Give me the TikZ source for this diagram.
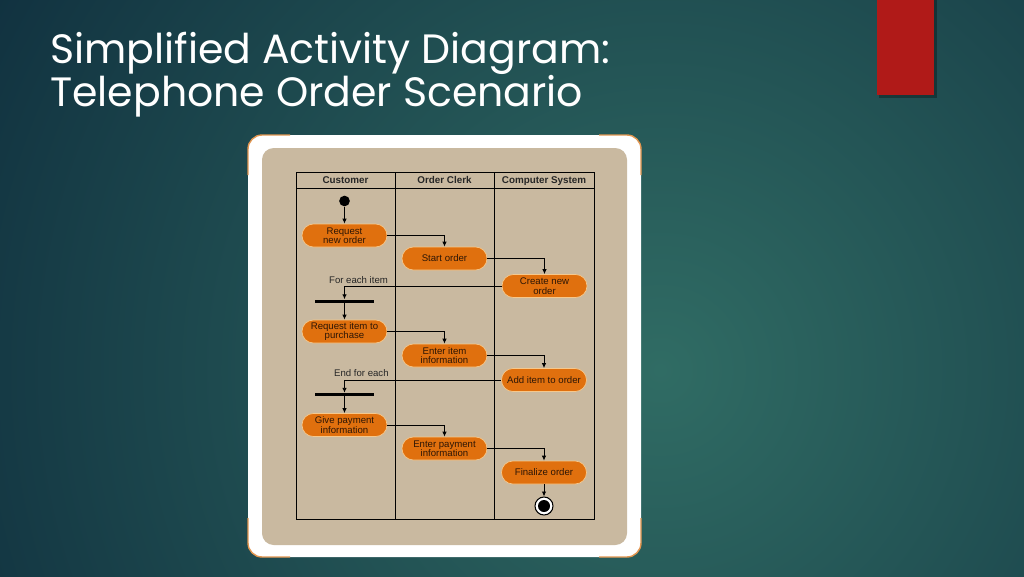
\documentclass[tikz,border=0pt]{standalone}
\usepackage{fontspec}
\setmainfont{Liberation Sans}
\newfontfamily\titlefont{Poppins}
\usepackage{tikz}
\usetikzlibrary{positioning, arrows.meta, shapes.geometric, calc}

\definecolor{bgdark}{RGB}{17,50,64}
\definecolor{bglight}{RGB}{48,108,100}
\definecolor{slidered}{RGB}{176,26,24}
\definecolor{paper}{RGB}{201,185,160}
\definecolor{framecorner}{RGB}{226,150,80}
\definecolor{actfill}{RGB}{224,112,14}
\definecolor{actedge}{RGB}{246,200,140}
\definecolor{acttext}{RGB}{45,22,6}

\begin{document}
\begin{tikzpicture}[
  x=0.03cm, y=-0.03cm,
  activity/.style={
    rectangle, rounded corners=0.34cm, draw=actedge, line width=0.6pt, fill=actfill,
    minimum width=2.55cm, minimum height=0.69cm, inner sep=1pt, align=center,
    text=acttext, font=\fontsize{8.2}{8}\selectfont
  },
  lanehead/.style={font=\fontsize{8.4}{9}\selectfont\bfseries, text=black!85,
    text height=6.2pt, text depth=1.8pt},
  note/.style={font=\fontsize{8.2}{9}\selectfont, text=black!85},
  syncbar/.style={rectangle, fill=black, minimum width=1.77cm, minimum height=0.09cm, inner sep=0pt},
  startdot/.style={circle, fill=black, minimum size=0.32cm, inner sep=0pt},
  enddot/.style={
    circle, draw=black, line width=0.9pt, fill=white, minimum size=0.54cm, inner sep=0pt,
    path picture={\fill[black] (path picture bounding box.center) circle (0.18cm);}
  },
  arrow/.style={-{Latex[length=4.2pt,width=3.8pt]}, line width=0.75pt}
]

% ==================== BACKGROUND ====================
\useasboundingbox (0,0) rectangle (1024,576);
\begin{scope}
  \clip (0,0) rectangle (1024,576);
  \fill[bgdark] (0,0) rectangle (1024,576);
  \shade[inner color=bglight, outer color=bgdark] (660,370) circle (760);
\end{scope}

% red tab
\fill[black, opacity=0.3] (879,0) rectangle (937,98);
\fill[slidered] (877,0) rectangle (934,95);

% title
\node[anchor=north west, text=white, align=left, inner sep=0pt,
      font=\titlefont\fontsize{35}{36.6}\selectfont] (title) at (50,32)
  {Simplified Activity Diagram:\\Telephone Order Scenario};

% ==================== PICTURE FRAME ====================
\fill[white, rounded corners=12] (248,135) rectangle (641,557);
\draw[framecorner, line width=1.2pt, rounded corners=12] (248,175) |- (290,135);
\draw[framecorner, line width=1.2pt, rounded corners=12] (599,135) -| (641,175);
\draw[framecorner, line width=1.2pt, rounded corners=12] (248,518) |- (290,557);
\draw[framecorner, line width=1.2pt, rounded corners=12] (599,557) -| (641,518);
\fill[paper, rounded corners=10] (262,148) rectangle (627,545);

% ==================== SWIMLANES ====================
\draw[line width=0.8pt] (296,172) rectangle (594,519);
\draw[line width=0.8pt] (296,188) -- (594,188);
\draw[line width=0.8pt] (395,172) -- (395,519);
\draw[line width=0.8pt] (494,172) -- (494,519);
\node[lanehead] (hcust) at (345.5,180.5) {Customer};
\node[lanehead] (hclerk) at (444.5,180.5) {Order Clerk};
\node[lanehead] (hsys) at (544,180.5) {Computer System};

% ==================== NODES ====================
\node[startdot] (start) at (344.5,201) {};

\node[activity] (req_new) at (344.5,235.5) {Request\\new order};
\node[activity] (start_ord) at (444.5,258.5) {Start order};
\node[activity] (create_new) at (544.5,286) {Create new\\order};

\node[syncbar] (bar_each) at (344.5,301) {};
\node[note, anchor=base west] (lbl_each) at (325,283) {For each item};

\node[activity] (req_item) at (344.5,331.5) {Request item to\\purchase};
\node[activity] (enter_item) at (444.5,355.5) {Enter item\\information};
\node[activity] (add_item) at (544,380) {Add item to order};

\node[syncbar] (bar_end) at (344.5,394.5) {};
\node[note, anchor=base west] (lbl_end) at (330,376) {End for each};

\node[activity] (give_pay) at (344.5,425) {Give payment\\information};
\node[activity] (enter_pay) at (444.5,448.5) {Enter payment\\information};
\node[activity] (finalize) at (544,472.5) {Finalize order};

\node[enddot] (stop) at (544,506) {};

% ==================== CONNECTIONS ====================
\draw[arrow] (start) -- (req_new);
\draw[arrow] (req_new.east) -| (start_ord.north);
\draw[arrow] (start_ord.east) -| (create_new.north);
\draw[arrow] (create_new.west) -| (bar_each.north);
\draw[arrow] (bar_each) -- (req_item);
\draw[arrow] (req_item.east) -| (enter_item.north);
\draw[arrow] (enter_item.east) -| (add_item.north);
\draw[arrow] (add_item.west) -| (bar_end.north);
\draw[arrow] (bar_end) -- (give_pay);
\draw[arrow] (give_pay.east) -| (enter_pay.north);
\draw[arrow] (enter_pay.east) -| (finalize.north);
\draw[arrow] (finalize) -- (stop);

\end{tikzpicture}
\end{document}
